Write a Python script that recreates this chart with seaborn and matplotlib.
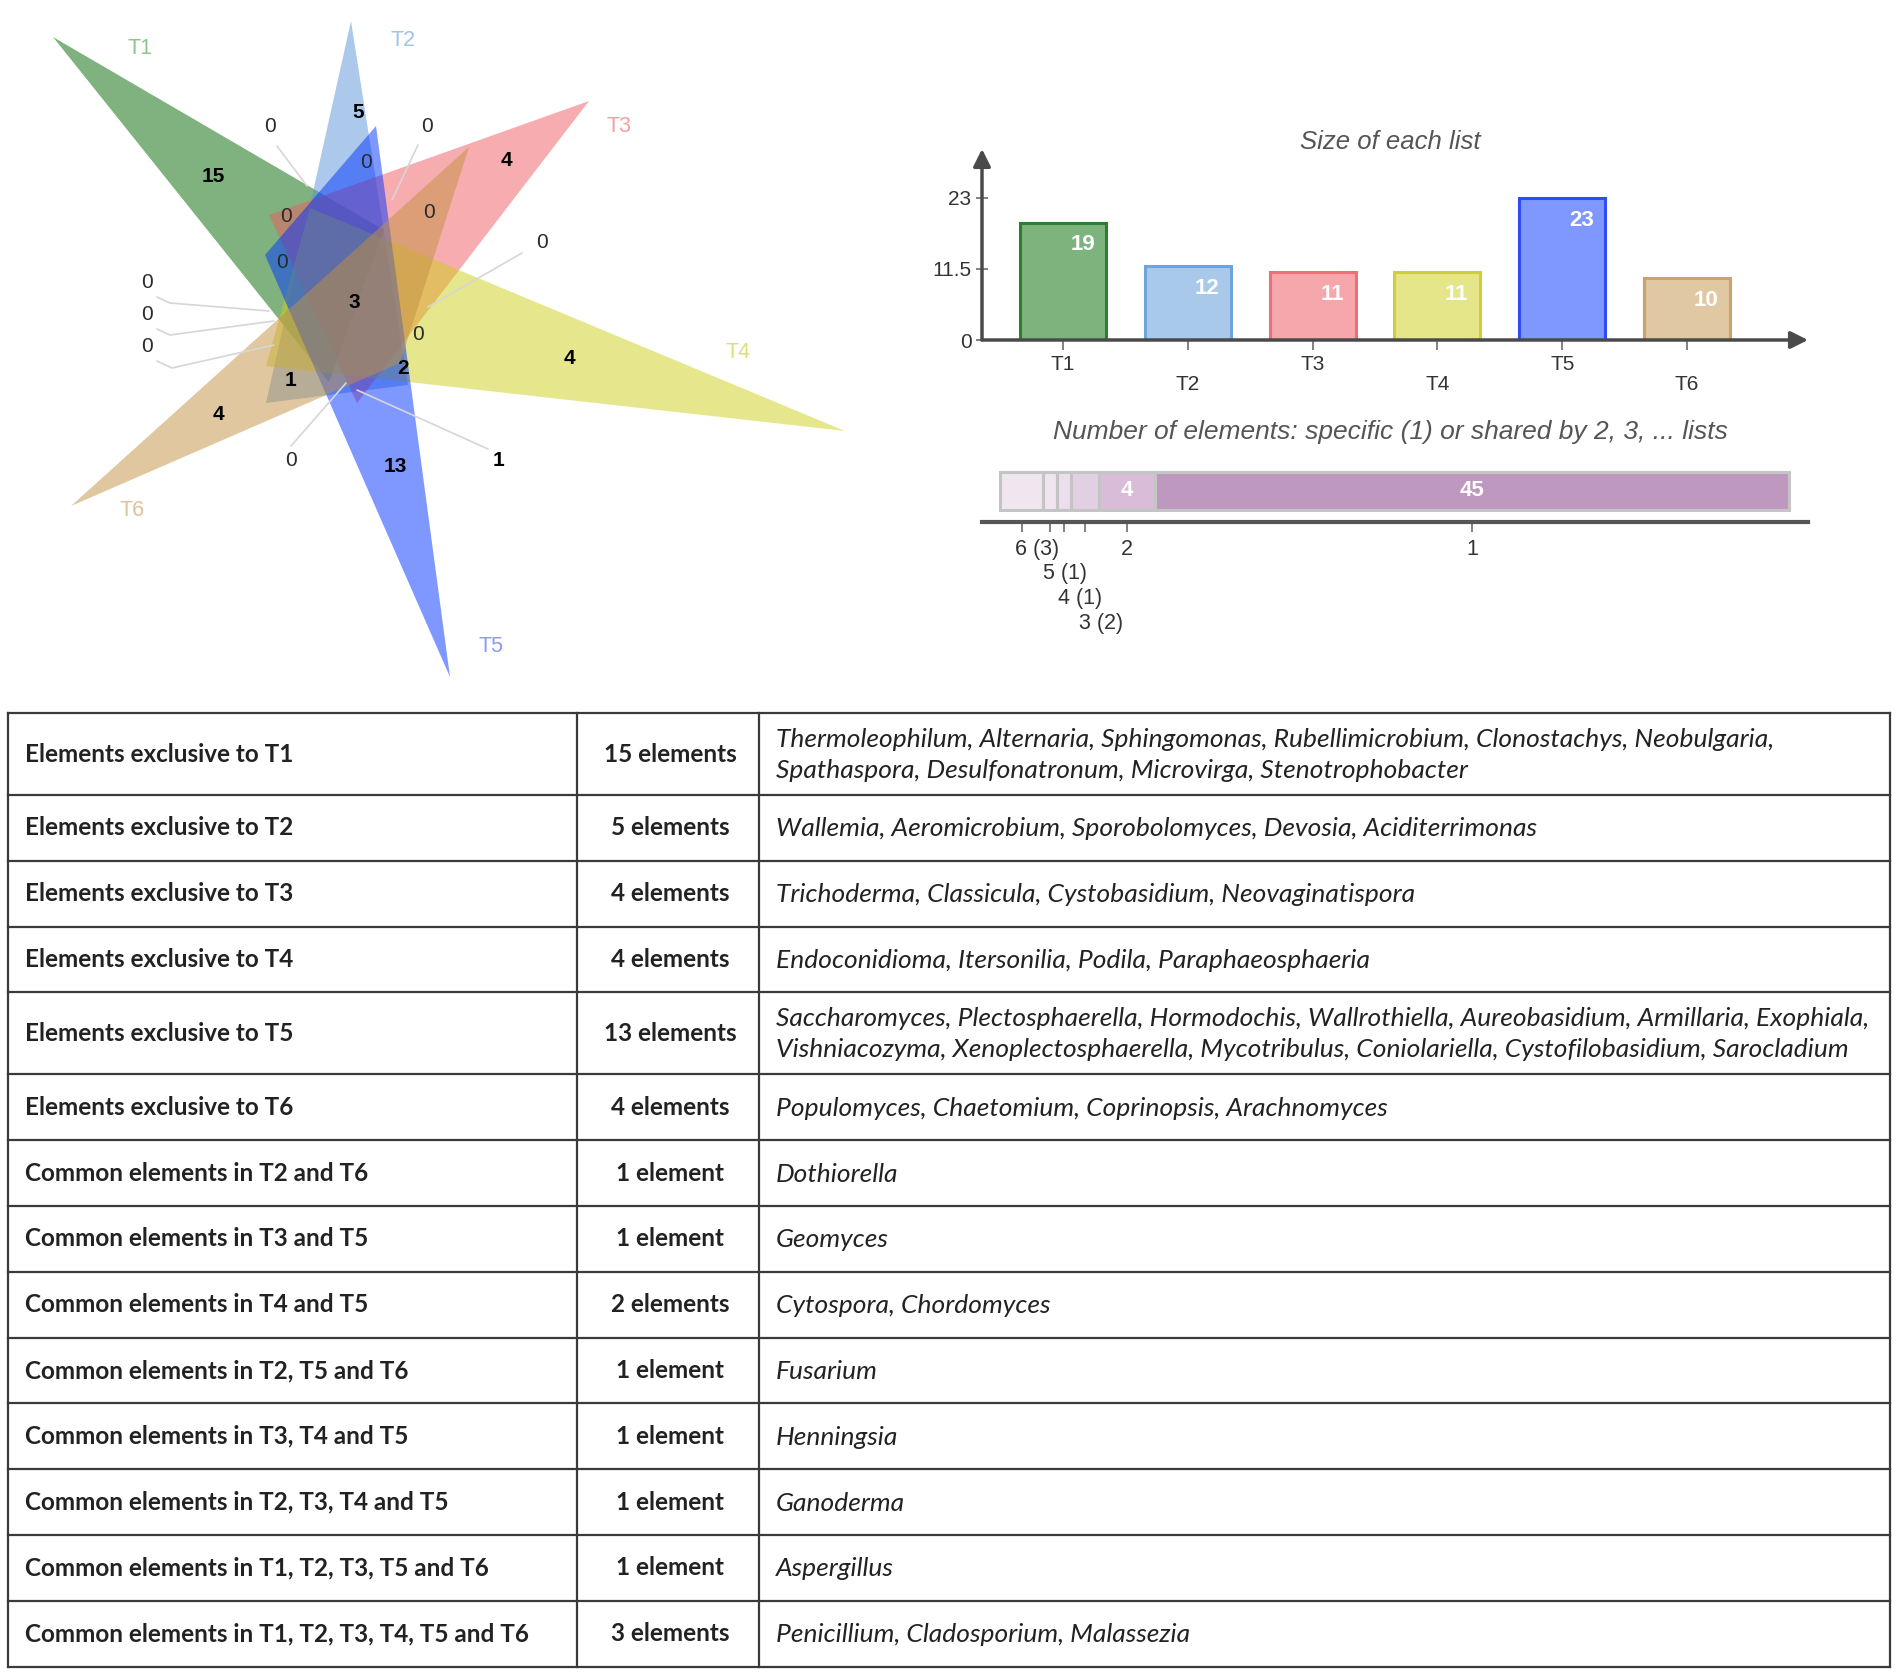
import textwrap
import numpy as np
import matplotlib
matplotlib.use("Agg")
import matplotlib.pyplot as plt
from matplotlib.patches import Polygon
import seaborn as sns

# ---------------- data ----------------
list_names = ["T1", "T2", "T3", "T4", "T5", "T6"]
list_sizes = [19, 12, 11, 11, 23, 10]
venn_colors = ["#006600", "#5a92d6", "#f15a60", "#cfcf1b", "#0033ff", "#c39141"]
label_colors = ["#8cc68c", "#9ec5e8", "#f3a0a5", "#dede7a", "#8c9cf5", "#dcc39d"]
bar_fills = ["#7db37d", "#a9c9ea", "#f5a7ab", "#e5e58a", "#7f98ff", "#e0c8a2"]
bar_edges = ["#2f7d2f", "#6fa3dc", "#ee6f76", "#cfcf3a", "#2f4df5", "#c8a46c"]

# numbers written in the venn regions (inside, then with leader lines)
venn_inside = [5, 0, 15, 4, 0, 0, 0, 3, 0, 4, 2, 1, 4, 13]
venn_outside = [0, 0, 0, 0, 0, 0, 0, 1]

share_degree = [6, 5, 4, 3, 2, 1]
share_counts = [3, 1, 1, 2, 4, 45]
share_colors = ["#efe6ef", "#efe4ef", "#ecdeec", "#e3cfe3", "#d8bcd8", "#bf98bf"]

row_sets = [["T1"], ["T2"], ["T3"], ["T4"], ["T5"], ["T6"],
            ["T2", "T6"], ["T3", "T5"], ["T4", "T5"],
            ["T2", "T5", "T6"], ["T3", "T4", "T5"], ["T2", "T3", "T4", "T5"],
            ["T1", "T2", "T3", "T5", "T6"], ["T1", "T2", "T3", "T4", "T5", "T6"]]
row_counts = [15, 5, 4, 4, 13, 4, 1, 1, 2, 1, 1, 1, 1, 3]
row_members = [
    ["Thermoleophilum", "Alternaria", "Sphingomonas", "Rubellimicrobium", "Clonostachys",
     "Neobulgaria", "Spathaspora", "Desulfonatronum", "Microvirga", "Stenotrophobacter"],
    ["Wallemia", "Aeromicrobium", "Sporobolomyces", "Devosia", "Aciditerrimonas"],
    ["Trichoderma", "Classicula", "Cystobasidium", "Neovaginatispora"],
    ["Endoconidioma", "Itersonilia", "Podila", "Paraphaeosphaeria"],
    ["Saccharomyces", "Plectosphaerella", "Hormodochis", "Wallrothiella", "Aureobasidium",
     "Armillaria", "Exophiala", "Vishniacozyma", "Xenoplectosphaerella", "Mycotribulus",
     "Coniolariella", "Cystofilobasidium", "Sarocladium"],
    ["Populomyces", "Chaetomium", "Coprinopsis", "Arachnomyces"],
    ["Dothiorella"],
    ["Geomyces"],
    ["Cytospora", "Chordomyces"],
    ["Fusarium"],
    ["Henningsia"],
    ["Ganoderma"],
    ["Aspergillus"],
    ["Penicillium", "Cladosporium", "Malassezia"],
]

# ---------------- figure ----------------
sns.set_theme(style="white")
plt.rcParams["font.family"] = ["Liberation Sans", "DejaVu Sans"]

W, H = 1901, 1678
fig = plt.figure(figsize=(W / 100, H / 100), dpi=100)


def fig_rect(x0, y0, x1, y1):
    return [x0 / W, 1 - y1 / H, (x1 - x0) / W, (y1 - y0) / H]


# overlay axes in pixel units for the venn and the table
ax = fig.add_axes([0, 0, 1, 1])
ax.set_xlim(0, W)
ax.set_ylim(H, 0)
ax.axis("off")

# --- venn: six triangles ---
triangles = [
    [(53, 37), (384, 230), (329, 382)],
    [(351, 21), (266, 403), (408, 385)],
    [(589, 101), (269, 215), (357, 403)],
    [(845, 431), (310, 208), (266, 366)],
    [(450, 677), (376, 126), (265, 255)],
    [(71, 506), (469, 147), (400, 363)],
]
for tri, col in zip(triangles, venn_colors):
    ax.add_patch(Polygon(tri, closed=True, facecolor=col, alpha=0.5, edgecolor="none", zorder=1))

set_label_pos = [(140, 48), (403, 40), (619, 127), (738, 352), (491, 647), (132, 511)]
for name, (x, y), col in zip(list_names, set_label_pos, label_colors):
    ax.text(x, y, name, color=col, fontsize=15.5, ha="center", va="center", zorder=4)

inside_pos = [(358, 112), (366, 163), (213, 176), (506, 160), (286, 217), (429, 212),
              (282, 263), (354, 303), (418, 335), (569, 359), (403, 369), (290, 380),
              (218, 415), (395, 466)]
for n, (x, y) in zip(venn_inside, inside_pos):
    ax.text(x, y, str(n), fontsize=15, ha="center", va="center", zorder=4,
            color="black" if n else "#2a2a2a", fontweight="bold" if n else "normal")

outside_pos = [(270, 127), (427, 127), (542, 243), (147, 283), (147, 315), (147, 347),
               (291, 460), (498, 460)]
leaders = [
    [(277, 146), (307, 186)],
    [(418, 145), (392, 200)],
    [(522, 253), (428, 307)],
    [(157, 297), (170, 303), (269, 311)],
    [(157, 329), (170, 335), (274, 321)],
    [(157, 361), (172, 368), (274, 345)],
    [(291, 446), (346, 383)],
    [(488, 449), (357, 390)],
]
for n, (x, y), line in zip(venn_outside, outside_pos, leaders):
    xs, ys = zip(*line)
    ax.plot(xs, ys, color="#d6d6d6", lw=1.2, zorder=3)
    ax.text(x, y, str(n), fontsize=15, ha="center", va="center", zorder=4,
            color="black" if n else "#2a2a2a", fontweight="bold" if n else "normal")

# --- bar chart: size of each list ---
ax_bar = fig.add_axes(fig_rect(982, 149, 1808, 340))
sns.barplot(x=list_names, y=list_sizes, hue=list_names, palette=bar_fills, legend=False,
            width=0.69, saturation=1, ax=ax_bar)
for patch, ec in zip(ax_bar.patches, bar_edges):
    patch.set_edgecolor(ec)
    patch.set_linewidth(2.2)
ax_bar.set_xlim(-0.65, 5.97)
ax_bar.set_ylim(0, 30.9)
ax_bar.set_facecolor("none")
for s in ax_bar.spines.values():
    s.set_visible(False)
ax_bar.annotate("", xy=(0, 1), xytext=(0, 0), xycoords="axes fraction",
                arrowprops=dict(arrowstyle="-|>", color="#4a4a4a", lw=2.5,
                                mutation_scale=26, shrinkA=0, shrinkB=0))
ax_bar.annotate("", xy=(1, 0), xytext=(0, 0), xycoords="axes fraction",
                arrowprops=dict(arrowstyle="-|>", color="#4a4a4a", lw=2.5,
                                mutation_scale=26, shrinkA=0, shrinkB=0))
ax_bar.set_yticks([0, 11.5, 23])
ax_bar.set_yticklabels(["0", "11.5", "23"])
ax_bar.set_xticks(range(len(list_names)))
ax_bar.set_xticklabels([n if i % 2 == 0 else "\n" + n for i, n in enumerate(list_names)],
                       linespacing=1.05)
ax_bar.tick_params(axis="y", direction="inout", length=9, width=1.3, color="#777",
                   labelsize=15, labelcolor="#333", pad=3, left=True)
ax_bar.tick_params(axis="x", direction="out", length=7, width=1.3, color="#777",
                   labelsize=15, labelcolor="#333", pad=4, bottom=True)
ax_bar.set_xlabel("")
ax_bar.set_ylabel("")
for i, v in enumerate(list_sizes):
    ax_bar.annotate(str(v), xy=(i, v), xytext=(14, -16), textcoords="offset points",
                    ha="center", va="center", color="white", fontsize=16, fontweight="bold")

ax.text(1390, 142, "Size of each list", fontsize=18.5, style="italic", color="#555",
        ha="center", va="center")
ax.text(1390, 432, "Number of elements: specific (1) or shared by 2, 3, ... lists",
        fontsize=19, style="italic", color="#555", ha="center", va="center")

# --- stacked bar: shared by n lists ---
ax_share = fig.add_axes(fig_rect(982, 462, 1808, 522))
lefts = np.concatenate([[0], np.cumsum(share_counts)[:-1]])
centers = lefts + np.array(share_counts) / 2
ax_share.barh(0.517, share_counts, left=lefts, height=0.633, color=share_colors,
              edgecolor="#c4c4c4", linewidth=2.2)
ax_share.set_xlim(-1.31, 57.35)
ax_share.set_ylim(0, 1)
ax_share.set_facecolor("none")
for k, s in ax_share.spines.items():
    s.set_visible(k == "bottom")
ax_share.spines["bottom"].set_color("#555")
ax_share.spines["bottom"].set_linewidth(3)
ax_share.set_yticks([])
ax_share.set_xticks(centers)
ax_share.set_xticklabels([])
ax_share.tick_params(axis="x", direction="out", length=7, width=1.3, color="#777", bottom=True)

row = 0
for deg, n, c in zip(share_degree, share_counts, centers):
    if n >= 4:
        ax_share.text(c, 0.517, str(n), color="white", fontsize=16, fontweight="bold",
                      ha="center", va="center")
        ax_share.annotate(str(deg), xy=(c, 0), xycoords=("data", "axes fraction"),
                          xytext=(0, -19.5), textcoords="offset points",
                          ha="center", va="center", fontsize=15.5, color="#333")
    else:
        ax_share.annotate(f"{deg} ({n})", xy=(c, 0), xycoords=("data", "axes fraction"),
                          xytext=(-4.5, -19.5 - 17.8 * row), textcoords="offset points",
                          ha="left", va="center", fontsize=15.5, color="#333")
        row += 1

# --- table ---
tab_left, tab_right, tab_top = 8, 1890, 713
col_x = [577, 759]
single_h, double_h = 65.8, 82
line_col = "#3a3a3a"


def row_label(sets):
    if len(sets) == 1:
        return f"Elements exclusive to {sets[0]}"
    return "Common elements in " + ", ".join(sets[:-1]) + " and " + sets[-1]


y = tab_top
ax.plot([tab_left, tab_right], [y, y], color=line_col, lw=1.6, solid_capstyle="projecting")
for sets, n, members in zip(row_sets, row_counts, row_members):
    text = "\n".join(textwrap.wrap(", ".join(members), width=99))
    h = double_h if "\n" in text else single_h
    yc = y + h / 2
    ax.text(25, yc, row_label(sets), fontsize=17.5, fontweight="bold", family="Lato",
            color="#222", ha="left", va="center")
    ax.text((col_x[0] + col_x[1]) / 2 + 2, yc, f"{n} element" + ("s" if n > 1 else ""),
            fontsize=17.5, fontweight="bold", family="Lato", color="#222",
            ha="center", va="center")
    ax.text(776, yc + 1, text, fontsize=19, style="italic", family="Lato", color="#222",
            ha="left", va="center", linespacing=1.42)
    y += h
    ax.plot([tab_left, tab_right], [y, y], color=line_col, lw=1.6, solid_capstyle="projecting")
for x in [tab_left, col_x[0], col_x[1], tab_right]:
    ax.plot([x, x], [tab_top, y], color=line_col, lw=1.6, solid_capstyle="projecting")

fig.savefig("out.png", dpi=100)
